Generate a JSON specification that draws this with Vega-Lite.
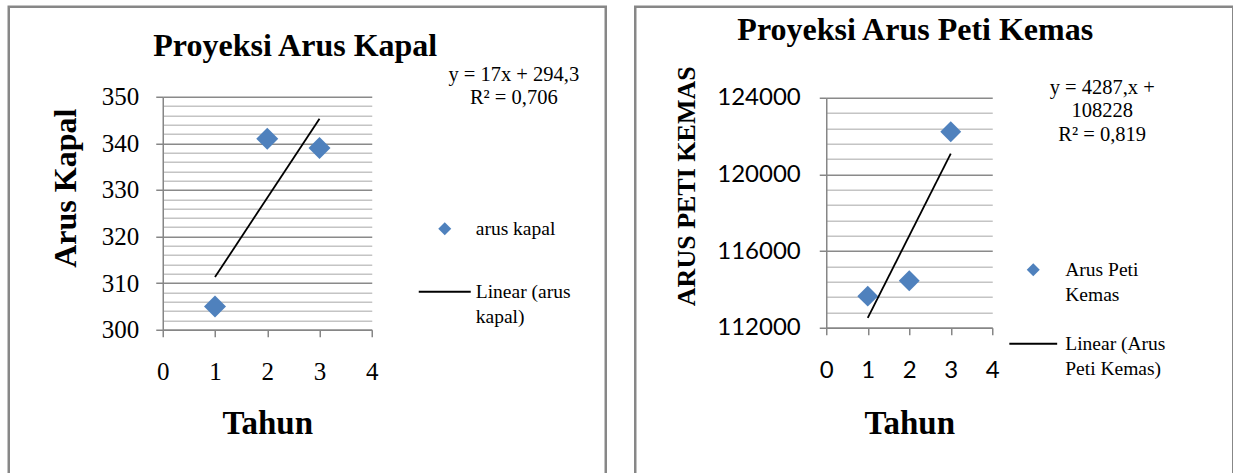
{
  "$schema": "https://vega.github.io/schema/vega-lite/v6.json",
  "padding": {"left": 6.75, "top": 4.75, "right": 0, "bottom": 0},
  "spacing": 25.5,
  "background": "white",
  "config": {
    "view": {"stroke": "#878787", "strokeWidth": 2.5},
    "font": "Liberation Serif",
    "style": {"guide-label": {"lineHeight": 25}}
  },
  "resolve": {"scale": {"shape": "independent", "color": "independent"}, "legend": {"shape": "independent", "color": "independent"}},
  "hconcat": [
    {
      "width": 597,
      "height": 470,
      "title": {"text": "Proyeksi Arus Kapal", "font": "Liberation Serif", "fontSize": 32, "fontWeight": "bold", "color": "black", "offset": -71, "baseline": "middle", "dx": -12, "anchor": "middle", "frame": "group"},
      "layer": [
        {
          "data": {"values": [
            {"tahun": 1, "arus": 305, "series": "arus kapal"},
            {"tahun": 2, "arus": 341, "series": "arus kapal"},
            {"tahun": 3, "arus": 339, "series": "arus kapal"}
          ]},
          "mark": {"type": "point", "filled": true, "opacity": 1, "size": 7744},
          "encoding": {
            "x": {"field": "tahun", "type": "quantitative",
              "scale": {"domain": [0, 4], "range": [154, 363], "nice": false, "zero": false},
              "axis": {"title": "Tahun", "titleFont": "Liberation Serif", "titleFontSize": 33, "titleFontWeight": "bold", "titleColor": "black", "titleY": 94, "titleBaseline": "middle",
                "values": [0, 1, 2, 3, 4], "format": "d", "offset": -147, "grid": false, "labelFlush": false, "tickCount": 100,
                "domainColor": "#868686", "domainWidth": 1.5, "tickColor": "#868686", "tickSize": 7, "tickWidth": 1.5,
                "labelFont": "Liberation Serif", "labelFontSize": 25, "labelColor": "black", "labelPadding": 23}},
            "y": {"field": "arus", "type": "quantitative",
              "scale": {"domain": [300, 350], "range": [323, 90], "nice": false, "zero": false},
              "axis": {"title": "Arus Kapal", "titleFont": "Liberation Serif", "titleFontSize": 32, "titleFontWeight": "bold", "titleColor": "black", "titleX": -97, "titleY": 181, "titleBaseline": "middle",
                "values": [300, 302, 304, 306, 308, 310, 312, 314, 316, 318, 320, 322, 324, 326, 328, 330, 332, 334, 336, 338, 340, 342, 344, 346, 348, 350],
                "tickCount": 100, "format": "d", "offset": -154, "labelOverlap": false, "labelFlush": false,
                "labelExpr": "datum.value % 10 === 0 ? datum.label : ''",
                "domainColor": "#868686", "domainWidth": 1.5, "tickColor": "#868686", "tickSize": 7, "tickWidth": 1.5,
                "tickOpacity": {"condition": {"test": "datum.value % 10 === 0", "value": 1}, "value": 0},
                "grid": true, "gridWidth": 1.3,
                "gridColor": {"condition": {"test": "datum.value % 10 === 0", "value": "#8a8a8a"}, "value": "#c4c4c4"},
                "labelFont": "Liberation Serif", "labelFontSize": 25, "labelColor": "black", "labelPadding": 17}},
            "color": {"field": "series", "type": "nominal",
              "scale": {"domain": ["arus kapal", "Linear (arus kapal)"], "range": ["#4F81BD", "black"]},
              "legend": {"orient": "none", "legendX": 410, "legendY": 196, "title": null, "padding": 0,
                "labelFont": "Liberation Serif", "labelFontSize": 19.5, "labelColor": "black", "labelOffset": 5, "labelLimit": 400,
                "labelBaseline": "middle", "symbolSize": 2704, "symbolStrokeWidth": 0, "rowPadding": 27,
                "labelExpr": "datum.label == 'Linear (arus kapal)' ? ['Linear (arus', 'kapal)'] : datum.label"}},
            "shape": {"field": "series", "type": "nominal",
              "scale": {"domain": ["arus kapal", "Linear (arus kapal)"], "range": ["M0,-0.25L0.25,0L0,0.25L-0.25,0Z", "M-1,-0.04L1,-0.04L1,0.04L-1,0.04Z"]},
              "legend": {"orient": "none", "legendX": 410, "legendY": 196, "title": null, "padding": 0,
                "labelFont": "Liberation Serif", "labelFontSize": 19.5, "labelColor": "black", "labelOffset": 5, "labelLimit": 400,
                "labelBaseline": "middle", "symbolSize": 2704, "symbolStrokeWidth": 0, "rowPadding": 27,
                "labelExpr": "datum.label == 'Linear (arus kapal)' ? ['Linear (arus', 'kapal)'] : datum.label"}}
          }
        },
        {
          "data": {"values": [
            {"tahun": 1, "arus": 311.3},
            {"tahun": 3, "arus": 345.3}
          ]},
          "mark": {"type": "line", "color": "black", "strokeWidth": 1.8},
          "encoding": {
            "x": {"field": "tahun", "type": "quantitative"},
            "y": {"field": "arus", "type": "quantitative"}
          }
        },
        {
          "data": {"values": [{"label": "y = 17x + 294,3\nR² = 0,706"}]},
          "mark": {"type": "text", "lineBreak": "\n", "font": "Liberation Serif", "fontSize": 20.5, "lineHeight": 23, "align": "center", "baseline": "middle", "color": "black"},
          "encoding": {
            "x": {"datum": 6.718, "type": "quantitative"},
            "y": {"datum": 354.72, "type": "quantitative"},
            "text": {"field": "label"}
          }
        }
      ]
    },
    {
      "width": 598,
      "height": 470,
      "title": {"text": "Proyeksi Arus Peti Kemas", "font": "Liberation Serif", "fontSize": 32, "fontWeight": "bold", "color": "black", "offset": -55, "baseline": "middle", "dx": -19, "anchor": "middle", "frame": "group"},
      "layer": [
        {
          "data": {"values": [
            {"tahun": 1, "arus": 113650, "series": "Arus Peti Kemas"},
            {"tahun": 2, "arus": 114450, "series": "Arus Peti Kemas"},
            {"tahun": 3, "arus": 122230, "series": "Arus Peti Kemas"}
          ]},
          "mark": {"type": "point", "filled": true, "opacity": 1, "size": 7000},
          "encoding": {
            "x": {"field": "tahun", "type": "quantitative",
              "scale": {"domain": [0, 4], "range": [191, 357], "nice": false, "zero": false},
              "axis": {"title": "Tahun", "titleFont": "Liberation Serif", "titleFontSize": 33, "titleFontWeight": "bold", "titleColor": "black", "titleY": 96, "titleBaseline": "middle",
                "values": [0, 1, 2, 3, 4], "format": "d", "offset": -149, "grid": false, "labelFlush": false, "tickCount": 100,
                "domainColor": "#868686", "domainWidth": 1.5, "tickColor": "#868686", "tickSize": 7, "tickWidth": 1.5,
                "labelFont": "Lato", "labelFontSize": 24, "labelColor": "black", "labelPadding": 24}},
            "y": {"field": "arus", "type": "quantitative",
              "scale": {"domain": [112000, 124000], "range": [321, 91], "nice": false, "zero": false},
              "axis": {"title": "ARUS PETI KEMAS", "titleFont": "Liberation Serif", "titleFontSize": 26, "titleFontWeight": "bold", "titleColor": "black", "titleX": -140, "titleY": 179, "titleBaseline": "middle",
                "values": [112000, 112800, 113600, 114400, 115200, 116000, 116800, 117600, 118400, 119200, 120000, 120800, 121600, 122400, 123200, 124000],
                "tickCount": 100, "format": "d", "offset": -191, "labelOverlap": false, "labelFlush": false,
                "labelExpr": "datum.value % 4000 === 0 ? datum.label : ''",
                "domainColor": "#868686", "domainWidth": 1.5, "tickColor": "#868686", "tickSize": 7, "tickWidth": 1.5,
                "tickOpacity": {"condition": {"test": "datum.value % 4000 === 0", "value": 1}, "value": 0},
                "grid": true, "gridWidth": 1.3,
                "gridColor": {"condition": {"test": "datum.value % 4000 === 0", "value": "#8a8a8a"}, "value": "#c4c4c4"},
                "labelFont": "Lato", "labelFontSize": 24, "labelColor": "black", "labelPadding": 19}},
            "color": {"field": "series", "type": "nominal",
              "scale": {"domain": ["Arus Peti Kemas", "Linear (Arus Peti Kemas)"], "range": ["#4F81BD", "black"]},
              "legend": {"orient": "none", "legendX": 372, "legendY": 237, "title": null, "padding": 0,
                "labelFont": "Liberation Serif", "labelFontSize": 19.5, "labelColor": "black", "labelOffset": 6, "labelLimit": 400,
                "labelBaseline": "middle", "symbolSize": 2704, "symbolStrokeWidth": 0, "rowPadding": 13,
                "labelExpr": "datum.label == 'Arus Peti Kemas' ? ['Arus Peti', 'Kemas'] : datum.label == 'Linear (Arus Peti Kemas)' ? ['Linear (Arus', 'Peti Kemas)'] : datum.label"}},
            "shape": {"field": "series", "type": "nominal",
              "scale": {"domain": ["Arus Peti Kemas", "Linear (Arus Peti Kemas)"], "range": ["M0,-0.25L0.25,0L0,0.25L-0.25,0Z", "M-0.92,-0.04L0.92,-0.04L0.92,0.04L-0.92,0.04Z"]},
              "legend": {"orient": "none", "legendX": 372, "legendY": 237, "title": null, "padding": 0,
                "labelFont": "Liberation Serif", "labelFontSize": 19.5, "labelColor": "black", "labelOffset": 6, "labelLimit": 400,
                "labelBaseline": "middle", "symbolSize": 2704, "symbolStrokeWidth": 0, "rowPadding": 13,
                "labelExpr": "datum.label == 'Arus Peti Kemas' ? ['Arus Peti', 'Kemas'] : datum.label == 'Linear (Arus Peti Kemas)' ? ['Linear (Arus', 'Peti Kemas)'] : datum.label"}}
          }
        },
        {
          "data": {"values": [
            {"tahun": 1, "arus": 112515},
            {"tahun": 3, "arus": 121089}
          ]},
          "mark": {"type": "line", "color": "black", "strokeWidth": 1.8},
          "encoding": {
            "x": {"field": "tahun", "type": "quantitative"},
            "y": {"field": "arus", "type": "quantitative"}
          }
        },
        {
          "data": {"values": [{"label": "y = 4287,x +\n108228\nR² = 0,819"}]},
          "mark": {"type": "text", "lineBreak": "\n", "font": "Liberation Serif", "fontSize": 20.5, "lineHeight": 23.5, "align": "center", "baseline": "middle", "color": "black"},
          "encoding": {
            "x": {"datum": 6.65, "type": "quantitative"},
            "y": {"datum": 124522, "type": "quantitative"},
            "text": {"field": "label"}
          }
        }
      ]
    }
  ]
}
